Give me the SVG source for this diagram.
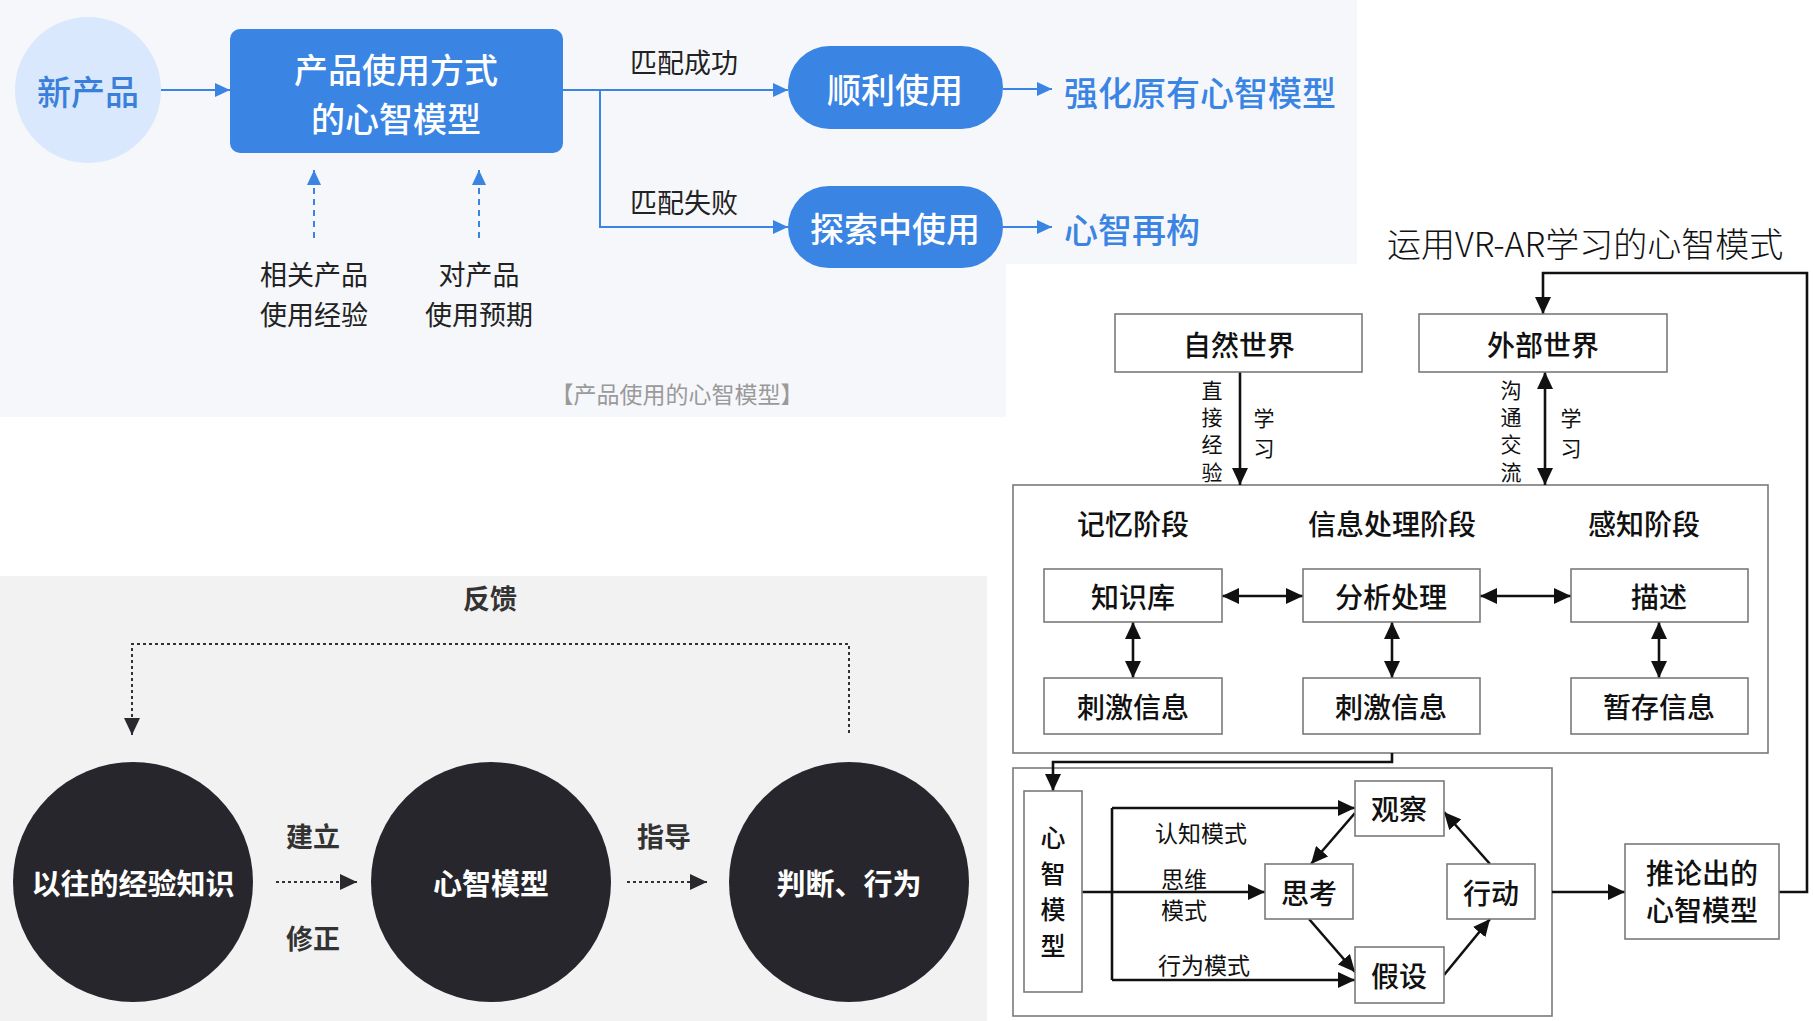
<svg xmlns="http://www.w3.org/2000/svg" width="1814" height="1021" viewBox="0 0 1814 1021">
<defs>
<style>
text{font-family:"Noto Sans CJK SC","Noto Sans",sans-serif;dominant-baseline:central}
.c{text-anchor:middle}
.wt{fill:#fff;font-size:34px;font-weight:500;text-anchor:middle}
.bl{fill:#3a84e4;font-size:34px;font-weight:500}
.dk{fill:#222;font-size:27px}
.bline{stroke:#3a84e4;stroke-width:2;fill:none}
.box{fill:#fff;stroke:#7a7a7a;stroke-width:1.6}
.frame{fill:none;stroke:#7a7a7a;stroke-width:1.6}
.bt{fill:#111;font-size:28px;font-weight:500;text-anchor:middle}
.vt{fill:#111;font-size:25px;font-weight:500;text-anchor:middle}
.sm{fill:#111;font-size:23px;text-anchor:middle}
.vs{fill:#111;font-size:21px;text-anchor:middle}
.kline{stroke:#111;stroke-width:2.6;fill:none}
.dline{stroke:#333;stroke-width:2;fill:none;stroke-dasharray:3 3}
.wb{fill:#fff;font-size:29px;font-weight:700;text-anchor:middle}
.gb{fill:#333;font-size:27px;font-weight:700;text-anchor:middle}
</style>
<marker id="ab" markerUnits="userSpaceOnUse" markerWidth="16" markerHeight="14" refX="15" refY="7" orient="auto"><path d="M0,0 L15,7 L0,14 z" fill="#3a84e4"/></marker>
<marker id="ak" markerUnits="userSpaceOnUse" markerWidth="18" markerHeight="16" refX="17" refY="8" orient="auto-start-reverse"><path d="M0,0 L17,8 L0,16 z" fill="#111"/></marker>
<marker id="ad" markerUnits="userSpaceOnUse" markerWidth="18" markerHeight="16" refX="17" refY="8" orient="auto"><path d="M0,0 L17,8 L0,16 z" fill="#2a2a2e"/></marker>
</defs>

<!-- backgrounds -->
<rect width="1814" height="1021" fill="#fff"/>
<path d="M0,0 H1357 V264 H1006 V417 H0 Z" fill="#f5f7fa"/>
<rect x="0" y="576" width="987" height="445" fill="#f2f2f2"/>

<!-- ===== top diagram ===== -->
<g id="connectors-top">
<line class="bline" x1="161" y1="90" x2="230" y2="90" marker-end="url(#ab)"/>
<line class="bline" x1="314" y1="238" x2="314" y2="170" stroke-dasharray="6 5" marker-end="url(#ab)"/>
<line class="bline" x1="479" y1="238" x2="479" y2="170" stroke-dasharray="6 5" marker-end="url(#ab)"/>
<polyline class="bline" points="563,90 600,90 788,90" marker-end="url(#ab)"/>
<polyline class="bline" points="600,90 600,227 788,227" marker-end="url(#ab)"/>
<line class="bline" x1="1003" y1="89" x2="1052" y2="89" marker-end="url(#ab)"/>
<line class="bline" x1="1003" y1="227" x2="1052" y2="227" marker-end="url(#ab)"/>
</g>
<g id="n-new">
<circle cx="88" cy="90" r="73" fill="#d9e8fc"/>
<text class="c" x="88" y="90" fill="#3a7fd9" font-size="34" font-weight="500">新产品</text>
</g>
<g id="n-model">
<rect x="230" y="29" width="333" height="124" rx="10" fill="#3a84e4"/>
<text class="wt" x="396" y="68" font-size="35">产品使用方式</text>
<text class="wt" x="396" y="117" font-size="35">的心智模型</text>
</g>
<g id="n-exp">
<text class="dk c" x="314" y="273">相关产品</text>
<text class="dk c" x="314" y="313">使用经验</text>
</g>
<g id="n-expect">
<text class="dk c" x="479" y="273">对产品</text>
<text class="dk c" x="479" y="313">使用预期</text>
</g>
<text class="dk" x="630" y="61">匹配成功</text>
<text class="dk" x="630" y="201">匹配失败</text>
<g id="n-smooth">
<rect x="788" y="46" width="215" height="83" rx="41.5" fill="#3a84e4"/>
<text class="wt" x="895" y="88">顺利使用</text>
</g>
<g id="n-explore">
<rect x="788" y="186" width="215" height="82" rx="41" fill="#3a84e4"/>
<text class="wt" x="895" y="227">探索中使用</text>
</g>
<g id="n-strengthen"><text class="bl" x="1064" y="91">强化原有心智模型</text></g>
<g id="n-rebuild"><text class="bl" x="1064" y="228">心智再构</text></g>
<text class="c" x="677" y="393" fill="#9a9a9a" font-size="23">【产品使用的心智模型】</text>

<!-- ===== right diagram ===== -->
<text x="1387" y="242" fill="#111" font-size="34" font-weight="300">运用VR-AR学习的心智模式</text>
<g id="n-stages">
<rect class="frame" x="1013" y="485" width="755" height="268"/>
<text class="bt" x="1133" y="523">记忆阶段</text>
<text class="bt" x="1392" y="523">信息处理阶段</text>
<text class="bt" x="1644" y="523">感知阶段</text>
</g>
<g id="n-loopbox"><rect class="frame" x="1013" y="768" width="539" height="248"/></g>
<g id="connectors-right">
<line class="kline" x1="1240" y1="372" x2="1240" y2="485" marker-end="url(#ak)"/>
<line class="kline" x1="1545" y1="372" x2="1545" y2="485" marker-start="url(#ak)" marker-end="url(#ak)"/>
<line class="kline" x1="1222" y1="596" x2="1303" y2="596" marker-start="url(#ak)" marker-end="url(#ak)"/>
<line class="kline" x1="1480" y1="596" x2="1571" y2="596" marker-start="url(#ak)" marker-end="url(#ak)"/>
<line class="kline" x1="1133" y1="622" x2="1133" y2="678" marker-start="url(#ak)" marker-end="url(#ak)"/>
<line class="kline" x1="1392" y1="622" x2="1392" y2="678" marker-start="url(#ak)" marker-end="url(#ak)"/>
<line class="kline" x1="1659" y1="622" x2="1659" y2="678" marker-start="url(#ak)" marker-end="url(#ak)"/>
<polyline class="kline" points="1392,753 1392,762 1053,762 1053,791" marker-end="url(#ak)"/>
<line class="kline" x1="1082" y1="892" x2="1265" y2="892" marker-end="url(#ak)"/>
<line class="kline" x1="1112" y1="808" x2="1112" y2="980"/>
<line class="kline" x1="1112" y1="808" x2="1355" y2="808" marker-end="url(#ak)"/>
<line class="kline" x1="1112" y1="980" x2="1355" y2="980" marker-end="url(#ak)"/>
<line class="kline" x1="1355" y1="813" x2="1311" y2="864" marker-end="url(#ak)"/>
<line class="kline" x1="1309" y1="919" x2="1355" y2="972" marker-end="url(#ak)"/>
<line class="kline" x1="1444" y1="975" x2="1490" y2="919" marker-end="url(#ak)"/>
<line class="kline" x1="1490" y1="864" x2="1444" y2="812" marker-end="url(#ak)"/>
<line class="kline" x1="1552" y1="892" x2="1625" y2="892" marker-end="url(#ak)"/>
<polyline class="kline" points="1779,892 1807,892 1807,273 1543,273 1543,314" marker-end="url(#ak)"/>
</g>
<g id="n-nature">
<rect class="box" x="1115" y="314" width="247" height="58"/>
<text class="bt" x="1239" y="344">自然世界</text>
</g>
<g id="n-outer">
<rect class="box" x="1419" y="314" width="248" height="58"/>
<text class="bt" x="1543" y="344">外部世界</text>
</g>
<g id="lbl-direct">
<text class="vs" x="1212" y="389">直</text><text class="vs" x="1212" y="416">接</text><text class="vs" x="1212" y="443">经</text><text class="vs" x="1212" y="471">验</text>
<text class="vs" x="1264" y="417">学</text><text class="vs" x="1264" y="447">习</text>
</g>
<g id="lbl-comm">
<text class="vs" x="1511" y="389">沟</text><text class="vs" x="1511" y="416">通</text><text class="vs" x="1511" y="443">交</text><text class="vs" x="1511" y="471">流</text>
<text class="vs" x="1571" y="417">学</text><text class="vs" x="1571" y="447">习</text>
</g>
<g id="n-kb"><rect class="box" x="1044" y="569" width="178" height="53"/><text class="bt" x="1133" y="596">知识库</text></g>
<g id="n-analysis"><rect class="box" x="1303" y="569" width="177" height="53"/><text class="bt" x="1391" y="596">分析处理</text></g>
<g id="n-desc"><rect class="box" x="1571" y="569" width="177" height="53"/><text class="bt" x="1659" y="596">描述</text></g>
<g id="n-stim1"><rect class="box" x="1044" y="678" width="178" height="56"/><text class="bt" x="1133" y="706">刺激信息</text></g>
<g id="n-stim2"><rect class="box" x="1303" y="678" width="177" height="56"/><text class="bt" x="1391" y="706">刺激信息</text></g>
<g id="n-temp"><rect class="box" x="1571" y="678" width="177" height="56"/><text class="bt" x="1659" y="706">暂存信息</text></g>

<g id="n-mm">
<rect class="box" x="1024" y="791" width="58" height="201"/>
<text class="vt" x="1053" y="836">心</text><text class="vt" x="1053" y="872">智</text><text class="vt" x="1053" y="908">模</text><text class="vt" x="1053" y="944">型</text>
</g>
<g id="n-observe"><rect class="box" x="1355" y="781" width="89" height="55"/><text class="bt" x="1399" y="808">观察</text></g>
<g id="n-think"><rect class="box" x="1265" y="864" width="88" height="55"/><text class="bt" x="1309" y="892">思考</text></g>
<g id="n-act"><rect class="box" x="1447" y="864" width="88" height="55"/><text class="bt" x="1491" y="892">行动</text></g>
<g id="n-hypo"><rect class="box" x="1355" y="947" width="89" height="56"/><text class="bt" x="1399" y="975">假设</text></g>
<g id="n-infer">
<rect class="box" x="1625" y="844" width="154" height="95"/>
<text class="bt" x="1702" y="872">推论出的</text>
<text class="bt" x="1702" y="909">心智模型</text>
</g>
<text class="sm" x="1201" y="832">认知模式</text>
<text class="sm" x="1184" y="878">思维</text>
<text class="sm" x="1184" y="909">模式</text>
<text class="sm" x="1204" y="964">行为模式</text>

<!-- ===== bottom-left diagram ===== -->
<g id="connectors-bottom">
<path class="dline" d="M849,733 V644 H132 V735" marker-end="url(#ad)"/>
<line class="dline" x1="276" y1="882" x2="357" y2="882" marker-end="url(#ad)"/>
<line class="dline" x1="627" y1="882" x2="707" y2="882" marker-end="url(#ad)"/>
</g>
<text class="gb" x="490" y="597">反馈</text>
<g id="n-past"><circle cx="133" cy="882" r="120" fill="#27262c"/><text class="wb" x="133" y="882">以往的经验知识</text></g>
<g id="n-mental"><circle cx="491" cy="882" r="120" fill="#27262c"/><text class="wb" x="491" y="882">心智模型</text></g>
<g id="n-judge"><circle cx="849" cy="882" r="120" fill="#27262c"/><text class="wb" x="849" y="882">判断、行为</text></g>
<text class="gb" x="313" y="835">建立</text>
<text class="gb" x="313" y="937">修正</text>
<text class="gb" x="664" y="835">指导</text>
</svg>
